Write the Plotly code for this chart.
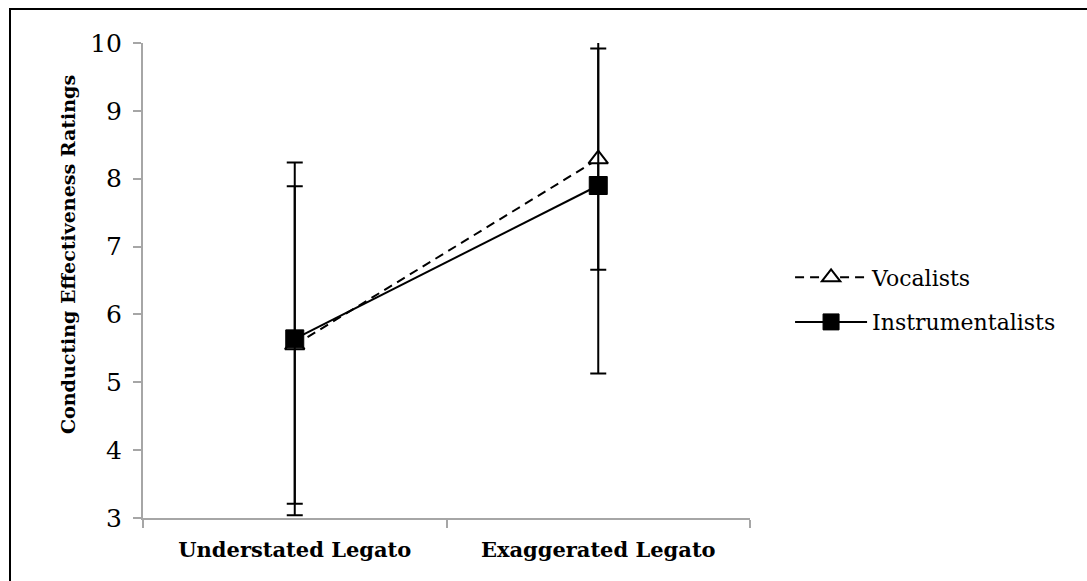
import plotly.graph_objects as go

categories = ["Understated Legato", "Exaggerated Legato"]
vocalists_mean = [5.55, 8.29]
vocalists_err = [2.34, 1.63]
instrumentalists_mean = [5.64, 7.90]
instrumentalists_err = [2.60, 2.77]
y_ticks = [3, 4, 5, 6, 7, 8, 9, 10]

SERIF = "DejaVu Serif"

fig = go.Figure()
fig.add_trace(go.Scatter(
    x=categories, y=vocalists_mean, name="Vocalists", mode="lines+markers",
    line=dict(color="black", width=2, dash="9px,6px"),
    marker=dict(symbol="triangle-up", size=17, color="white",
                line=dict(color="black", width=2)),
    error_y=dict(type="data", array=vocalists_err, color="black", thickness=2, width=8),
    legendgroup="a",
))
fig.add_trace(go.Scatter(
    x=categories, y=instrumentalists_mean, name="Instrumentalists", mode="lines+markers",
    line=dict(color="black", width=2),
    marker=dict(symbol="square", size=18, color="black",
                line=dict(color="black", width=1)),
    error_y=dict(type="data", array=instrumentalists_err, color="black", thickness=2, width=8),
    legendgroup="b",
))

fig.update_layout(
    width=1087, height=581,
    margin=dict(l=143, r=337, t=43, b=63),
    paper_bgcolor="white", plot_bgcolor="white",
    font=dict(family=SERIF, color="black", size=22),
    legend=dict(x=1.066, y=(518 - 300) / 475, xanchor="left", yanchor="middle",
                font=dict(family=SERIF, size=22, color="black"),
                itemwidth=72, tracegroupgap=13, traceorder="grouped",
                bgcolor="rgba(0,0,0,0)"),
    xaxis=dict(type="category", range=[-0.5, 1.5], tickson="boundaries",
               showline=True, linecolor="#a6a6a6", linewidth=2,
               ticks="outside", ticklen=8, tickcolor="#a6a6a6", tickwidth=2,
               tickfont=dict(family=SERIF, size=21, color="black", weight="bold"),
               ticklabelstandoff=12,
               showgrid=False, zeroline=False),
    yaxis=dict(range=[3, 10], tickvals=y_ticks,
               showline=True, linecolor="#a6a6a6", linewidth=2,
               ticks="outside", ticklen=8, tickcolor="#a6a6a6", tickwidth=2,
               tickfont=dict(family=SERIF, size=25, color="black"),
               ticklabelstandoff=6,
               showgrid=False, zeroline=False),
    annotations=[dict(text="<b>Conducting Effectiveness Ratings</b>",
                      xref="paper", yref="paper",
                      x=(68 - 143) / 607, y=(518 - 255) / 475,
                      xanchor="center", yanchor="middle", textangle=-90,
                      showarrow=False,
                      font=dict(family=SERIF, size=19, color="black"))],
    shapes=[dict(type="rect", xref="paper", yref="paper",
                 x0=(10 - 143) / 607, x1=(1200 - 143) / 607,
                 y0=(518 - 700) / 475, y1=(518 - 9) / 475,
                 line=dict(color="black", width=2), fillcolor="rgba(0,0,0,0)",
                 layer="below")],
)

fig.write_html("out.html")
